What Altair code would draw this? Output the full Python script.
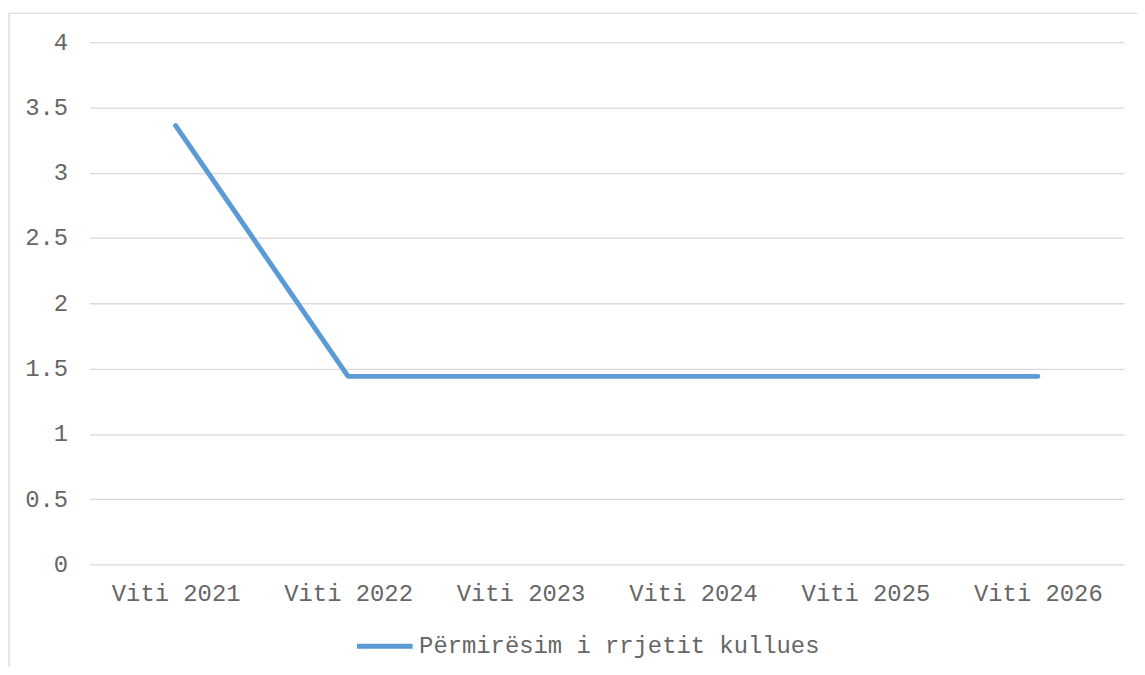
import altair as alt
import pandas as pd

years = ["Viti 2021", "Viti 2022", "Viti 2023", "Viti 2024", "Viti 2025", "Viti 2026"]
values = [3.36, 1.44, 1.44, 1.44, 1.44, 1.44]
series_name = "Përmirësim i rrjetit kullues"
y_ticks = [0, 0.5, 1, 1.5, 2, 2.5, 3, 3.5, 4]

df = pd.DataFrame({"year": years, "value": values, "series": [series_name] * len(years)})

FONT = "Liberation Mono"
TXT = "#666666"
GRID = "#d9d9d9"
FS = 24

border = alt.Chart(alt.Data(values=[{"k": 1}])).mark_rect(
    filled=False, stroke=GRID, strokeWidth=1.3
).encode(
    x=alt.value(-81), x2=alt.value(1300), y=alt.value(-29), y2=alt.value(900)
)

line = alt.Chart(df).mark_line(strokeWidth=5, strokeCap="round", strokeJoin="round").encode(
    x=alt.X("year:N", sort=years, title=None,
            axis=alt.Axis(labelAngle=0, labelFont=FONT, labelFontSize=FS, labelColor=TXT,
                          labelPadding=17, ticks=False, domain=False, grid=False)),
    y=alt.Y("value:Q", title=None, scale=alt.Scale(domain=[0, 4], nice=False),
            axis=alt.Axis(values=y_ticks, format="~g", labelFont=FONT, labelFontSize=FS,
                          labelColor=TXT, labelPadding=22, ticks=False, domain=False,
                          grid=True, gridColor=GRID, gridWidth=1.3)),
    color=alt.Color("series:N", title=None,
                    scale=alt.Scale(range=["#5B9BD5"]),
                    legend=alt.Legend(orient="none", legendX=267, legendY=578,
                                      symbolType="stroke", symbolSize=3136,
                                      symbolStrokeWidth=5, labelOffset=4, labelLimit=800,
                                      labelFont=FONT, labelFontSize=FS, labelColor=TXT)),
)

chart = alt.layer(border, line).properties(
    width=1042, height=526,
    autosize=alt.AutoSizeParams(type="none"),
    padding={"left": 82, "top": 32, "right": 13, "bottom": 101},
).configure(background="white").configure_view(strokeWidth=0, strokeOpacity=0)

chart.save("out.html", embed_options={"renderer": "svg", "actions": False})
